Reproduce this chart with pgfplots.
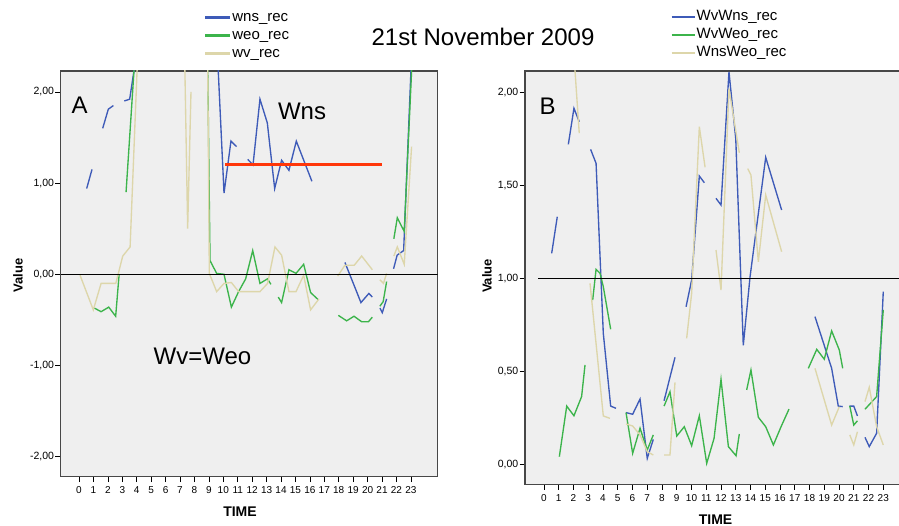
\documentclass[border=0pt]{standalone}
\usepackage{fontspec}
\setmainfont{Liberation Sans}
\usepackage{pgfplots}
\usepackage{pgfplotstable}
\pgfplotsset{compat=1.18}
\definecolor{cblue}{RGB}{62,91,184}
\definecolor{cgreen}{RGB}{60,180,75}
\definecolor{ctan}{RGB}{221,214,170}
\definecolor{bgc}{RGB}{239,239,239}
\definecolor{cred}{RGB}{255,55,10}

% ---------- Panel A ----------
\pgfplotstableread{
x y
0.53 0.94
0.90 1.15
nan nan
1.64 1.60
2.03 1.81
2.38 1.85
nan nan
3.14 1.90
3.51 1.92
4.0 2.43
9.5 2.73
10.05 0.89
10.53 1.46
10.92 1.40
nan nan
11.69 1.26
12.06 1.20
12.54 1.92
13.05 1.66
13.56 0.94
14.04 1.25
14.55 1.14
15.06 1.46
15.6 1.24
16.14 1.02
nan nan
18.43 0.13
19.54 -0.31
20.09 -0.21
20.33 -0.25
nan nan
20.86 -0.37
21.02 -0.42
21.32 -0.27
nan nan
21.80 0.06
22.05 0.21
22.50 0.26
23.10 2.60
}\Awns

\pgfplotstableread{
x y
1.06 -0.37
1.53 -0.41
2.06 -0.36
2.54 -0.46
2.78 0.00
nan nan
3.26 0.90
4.0 2.69
8.55 7.2
9.08 0.15
9.54 0.01
10.05 0.00
10.56 -0.36
11.06 -0.19
11.55 -0.05
12.04 0.26
12.54 -0.10
13.06 -0.05
13.30 -0.11
nan nan
13.81 -0.25
14.04 -0.31
14.55 0.05
15.04 0.01
15.57 0.11
16.05 -0.20
16.59 -0.28
nan nan
17.97 -0.45
18.55 -0.51
19.06 -0.46
19.59 -0.52
20.06 -0.52
20.33 -0.47
nan nan
20.85 -0.35
21.08 -0.30
21.32 -0.08
nan nan
21.82 0.39
22.06 0.62
22.54 0.47
23.10 2.40
}\Aweo

\pgfplotstableread{
x y
0.07 -0.01
0.99 -0.39
1.53 -0.10
2.55 -0.10
3.03 0.20
3.54 0.30
4.5 4.14
7.0 5.3
7.53 0.50
7.76 2.00
nan nan
8.55 10.0
9.03 0.01
9.54 -0.19
10.05 -0.10
10.56 -0.09
11.06 -0.19
11.55 -0.19
12.04 -0.19
12.54 -0.19
13.07 -0.10
13.58 0.30
14.04 0.21
14.55 -0.19
15.04 -0.19
15.57 -0.01
16.05 -0.39
16.63 -0.27
nan nan
17.93 -0.02
18.43 0.10
19.08 0.10
19.59 0.20
20.33 0.05
nan nan
20.85 -0.06
21.10 -0.10
21.32 0.01
nan nan
21.82 0.20
22.06 0.30
22.54 0.11
23.05 1.40
}\Awv

% ---------- Panel B ----------
\pgfplotstableread{
x y
0.52 1.134
0.90 1.331
nan nan
1.65 1.72
2.03 1.914
2.39 1.842
nan nan
3.16 1.693
3.53 1.618
4.02 0.704
4.52 0.313
4.88 0.301
nan nan
5.56 0.278
6.01 0.269
6.51 0.351
7.00 0.032
7.41 0.134
nan nan
8.14 0.342
8.88 0.575
nan nan
9.63 0.847
10.01 0.991
10.53 1.55
10.87 1.514
nan nan
11.66 1.43
12.00 1.394
12.54 2.11
13.00 1.75
13.51 0.64
13.97 1.009
15.03 1.65
16.11 1.367
nan nan
18.37 0.794
19.50 0.516
19.95 0.313
20.25 0.31
nan nan
20.70 0.313
21.00 0.313
21.25 0.26
nan nan
21.76 0.145
22.05 0.095
22.55 0.167
23.00 0.928
}\Bwns

\pgfplotstableread{
x y
1.04 0.041
1.54 0.313
2.03 0.261
2.55 0.364
2.78 0.534
nan nan
3.30 0.883
3.53 1.048
3.80 1.027
4.02 0.955
4.52 0.726
nan nan
5.56 0.278
6.01 0.059
6.51 0.194
7.00 0.077
7.41 0.158
nan nan
8.14 0.313
8.54 0.39
9.00 0.152
9.51 0.202
10.01 0.10
10.53 0.261
11.03 0.005
11.53 0.14
12.00 0.457
12.50 0.095
13.02 0.046
13.24 0.163
nan nan
13.74 0.40
14.03 0.507
14.53 0.253
15.03 0.202
15.55 0.104
16.07 0.202
16.61 0.297
nan nan
17.92 0.516
18.49 0.618
19.00 0.565
19.50 0.717
20.02 0.614
20.25 0.516
nan nan
20.73 0.313
21.00 0.211
21.25 0.234
nan nan
21.76 0.296
22.55 0.364
23.00 0.83
}\Bweo

\pgfplotstableread{
x y
2.03 2.20
2.39 1.78
nan nan
3.12 0.973
4.02 0.26
4.47 0.247
nan nan
5.56 0.217
6.01 0.206
6.51 0.158
7.00 0.068
7.41 0.05
nan nan
8.14 0.05
8.54 0.05
8.88 0.44
nan nan
9.67 0.677
10.01 0.919
10.53 1.815
10.92 1.597
nan nan
11.66 1.152
12.00 0.937
12.54 2.02
13.24 1.675
nan nan
13.81 1.59
14.03 1.555
14.53 1.089
15.03 1.448
16.11 1.143
nan nan
18.37 0.516
19.50 0.211
20.02 0.31
nan nan
20.73 0.158
21.00 0.104
21.25 0.175
nan nan
21.76 0.337
22.05 0.414
22.55 0.202
23.00 0.104
}\Bwv

\pgfplotsset{
  common/.style={
    scale only axis, anchor=south west,
    /pgf/number format/assume math mode=true,
    axis background/.style={fill=bgc},
    axis line style={draw=black!72, line width=1.1pt},
    tick align=outside, major tick length=5.5pt,
    tick style={black, line width=0.7pt},
    xtick pos=bottom, ytick pos=left,
    xtick={0,...,23},
    xticklabel style={font=\fontsize{10}{12}\selectfont, inner sep=1pt, yshift=-3.5pt},
    yticklabel style={font=\fontsize{10.5}{12}\selectfont, inner sep=1pt,
      /pgf/number format/.cd, fixed, fixed zerofill, precision=2, use comma, assume math mode=true},
    unbounded coords=jump,
    xlabel={TIME}, ylabel={Value},
    xlabel style={font=\bfseries\fontsize{14}{16}\selectfont, anchor=center},
    ylabel style={font=\bfseries\fontsize{13}{15}\selectfont, anchor=center},
    legend cell align=left,
    legend style={draw=none, fill=none, font=\fontsize{15}{17}\selectfont,
      anchor=north west, inner sep=0pt, row sep=1pt,
      nodes={inner sep=1pt, text height=11pt, text depth=4pt}},
  }
}

\begin{document}
\begin{tikzpicture}
\path[use as bounding box] (0pt,0pt) rectangle (899pt,526pt);

\begin{axis}[common, name=axA,
  at={(60.7pt,49.3pt)}, width=377pt, height=405.7pt,
  xmin=-1.27, xmax=24.86, ymin=-2.219, ymax=2.229,
  ytick={-2,-1,0,1,2},
  xlabel style={at={(axis description cs:0.4756,0)}, yshift=-34.6pt},
  ylabel style={at={(axis description cs:0,0.496)}, yshift=42.7pt},
  legend style={at={(axis description cs:0.380,1.153)}},
  legend image code/.code={\draw[#1, line width=2.2pt] (0pt,0.2pt) -- (25pt,0.2pt);},
]
\addplot[color=cblue, line width=1.35pt] table {\Awns};
\addlegendentry{wns\_rec}
\addplot[color=cgreen, line width=1.35pt] table {\Aweo};
\addlegendentry{weo\_rec}
\addplot[color=ctan, line width=1.35pt] table {\Awv};
\addlegendentry{wv\_rec}
\addplot[black, line width=0.8pt, forget plot] coordinates {(-1.27,0) (24.86,0)};
\addplot[cred, line width=3pt, forget plot] coordinates {(10.15,1.2) (21.0,1.2)};
\end{axis}

\begin{axis}[common, name=axB,
  at={(525pt,41.7pt)}, width=385.7pt, height=413.3pt,
  xmin=-1.288, xmax=24.86, ymin=-0.1075, ymax=2.1145,
  ytick={0,0.5,1,1.5,2},
  xlabel style={at={(axis description cs:0.494,0)}, yshift=-35.4pt},
  ylabel style={at={(axis description cs:0,0.504)}, yshift=38pt},
  legend style={at={(axis description cs:0.3775,1.152)}},
  legend image code/.code={\draw[#1, line width=1.8pt] (0pt,0pt) -- (23pt,0pt);},
]
\addplot[color=cblue, line width=1.35pt] table {\Bwns};
\addlegendentry{WvWns\_rec}
\addplot[color=cgreen, line width=1.35pt] table {\Bweo};
\addlegendentry{WvWeo\_rec}
\addplot[color=ctan, line width=1.35pt] table {\Bwv};
\addlegendentry{WnsWeo\_rec}
\addplot[black, line width=0.8pt, forget plot] coordinates {(-0.4,1) (24.86,1)};
\end{axis}

\node[font=\fontsize{24}{28}\selectfont, anchor=base] at (483pt,480pt) {21st November 2009};
\node[font=\fontsize{24}{28}\selectfont, anchor=base] at (79.7pt,412pt) {A};
\node[font=\fontsize{24}{28}\selectfont, anchor=base] at (302pt,406.7pt) {Wns};
\node[font=\fontsize{24}{28}\selectfont, anchor=base] at (202.5pt,161pt) {Wv=Weo};
\node[font=\fontsize{24}{28}\selectfont, anchor=base] at (547.5pt,411pt) {B};
\end{tikzpicture}
\end{document}
